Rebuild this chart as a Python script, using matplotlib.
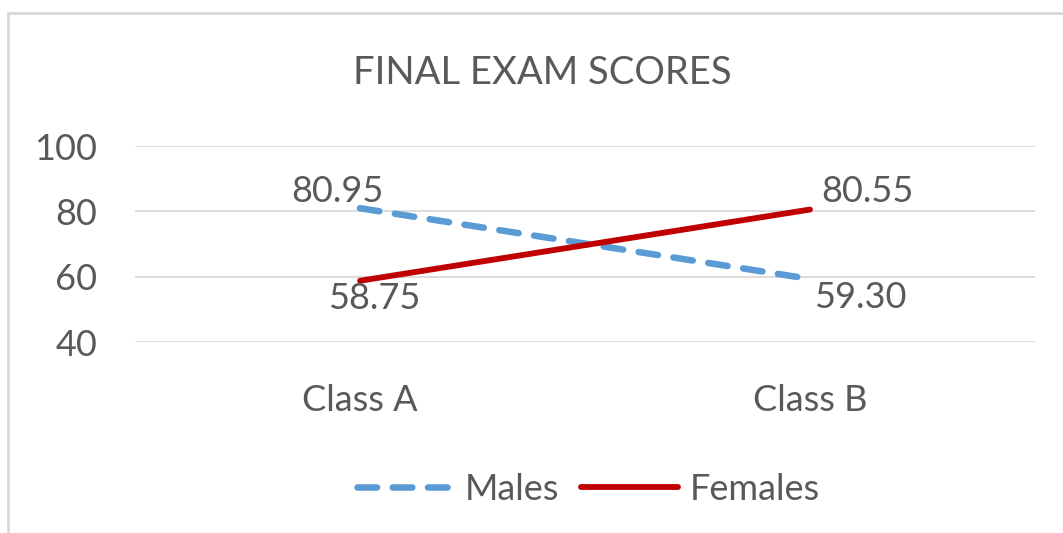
import matplotlib
matplotlib.use("Agg")
import matplotlib.pyplot as plt
from matplotlib.patches import Rectangle

classes = ["Class A", "Class B"]
males = [80.95, 59.30]
females = [58.75, 80.55]
yticks = [40, 60, 80, 100]

W, H = 1063, 533
plt.rcParams["font.family"] = ["Lato", "DejaVu Sans"]
texto = "#595959"

fig = plt.figure(figsize=(W / 100, H / 100), dpi=100)
# borda do grafico
fig.patches.append(Rectangle((8 / W, -0.02), 1.1, 1 - 13 / H + 0.02,
                             transform=fig.transFigure, fill=False,
                             edgecolor="#d9d9d9", linewidth=2))

ax = fig.add_axes([135 / W, 1 - 342 / H, 900 / W, 196 / H])
x = range(len(classes))
ax.plot(x, males, color="#5b9bd5", linewidth=4.7, dashes=(3.0, 2.4),
        dash_capstyle="round", solid_capstyle="round", label="Males")
ax.plot(x, females, color="#c00000", linewidth=4.2,
        solid_capstyle="round", label="Females")

ax.set_xlim(-0.5, 1.5)
ax.set_ylim(40, 100)
ax.set_yticks(yticks)
ax.set_xticks(list(x))
ax.set_xticklabels(classes)
ax.tick_params(axis="both", length=0, labelsize=26, labelcolor=texto)
ax.tick_params(axis="y", pad=27)
ax.tick_params(axis="x", pad=30)
ax.grid(axis="y", color="#d9d9d9", linewidth=1.3)
ax.set_axisbelow(True)
for s in ax.spines.values():
    s.set_visible(False)

# rotulos de dados
offs_m = [(-23, 17), (50, -19)]
offs_f = [(14, -18), (57, 18)]
for i in x:
    ax.annotate(f"{males[i]:.2f}", (i, males[i]), xytext=offs_m[i],
                textcoords="offset pixels", ha="center", va="center",
                fontsize=26, color=texto)
    ax.annotate(f"{females[i]:.2f}", (i, females[i]), xytext=offs_f[i],
                textcoords="offset pixels", ha="center", va="center",
                fontsize=26, color=texto)

fig.text(542 / W, 1 - 73 / H, "FINAL EXAM SCORES", ha="center", va="center",
         fontsize=27.5, color=texto)

fig.legend(loc="center", bbox_to_anchor=(588 / W, 1 - 489 / H), ncol=2,
           frameon=False, fontsize=26, labelcolor=texto, handlelength=2.7,
           handletextpad=0.3, columnspacing=0.6)

fig.savefig("out.png", dpi=100)
